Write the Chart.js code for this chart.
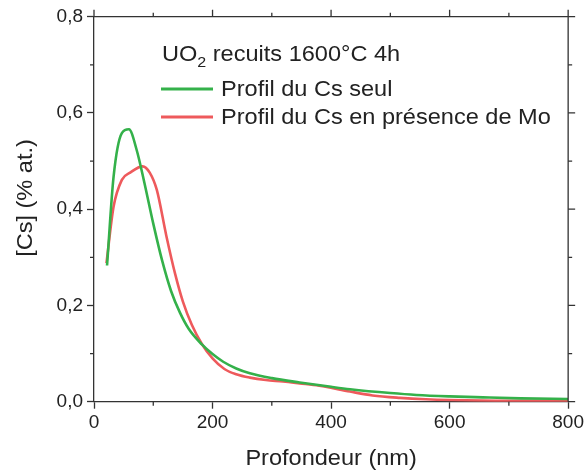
<!DOCTYPE html>
<html>
<head>
<meta charset="utf-8">
<script src="https://cdn.jsdelivr.net/npm/chart.js@4.4.1/dist/chart.umd.min.js"></script>
<style>
    body { margin: 0; background: #fff; }
    #wrap { width: 587px; height: 472px; position: relative; }
</style>
</head>
<body>
<div id="wrap"><canvas id="profileChart"></canvas></div>
<script>
// Profil du Cs seul
const depthCsAlone = [22, 33, 47, 59, 72, 85, 100, 115, 130, 145, 160, 182, 200, 218, 240, 263, 300, 347, 400, 432, 500, 544, 600, 656, 720, 800];
const concCsAlone = [0.283, 0.467, 0.558, 0.566, 0.523, 0.455, 0.370, 0.293, 0.230, 0.185, 0.151, 0.119, 0.099, 0.083, 0.069, 0.059, 0.049, 0.040, 0.031, 0.026, 0.018, 0.014, 0.011, 0.009, 0.007, 0.0056];

// Profil du Cs en présence de Mo
const depthCsMo = [21, 33, 47, 61, 82, 94, 106, 122, 137, 150, 165, 182, 200, 220, 240, 263, 290, 319, 347, 380, 432, 470, 516, 560, 600, 700, 800];
const concCsMo = [0.288, 0.405, 0.461, 0.476, 0.489, 0.476, 0.440, 0.345, 0.265, 0.208, 0.160, 0.120, 0.090, 0.068, 0.057, 0.050, 0.045, 0.042, 0.038, 0.033, 0.021, 0.013, 0.008, 0.005, 0.0035, 0.002, 0.002];

const seriesLabels = ['Profil du Cs seul', 'Profil du Cs en présence de Mo'];
const seriesColors = ['#34b14a', '#ee5a5c'];

const xTicks = [0, 200, 400, 600, 800];
const xMinorTicks = [100, 300, 500, 700];
const yTicks = [0, 0.2, 0.4, 0.6, 0.8];
const yMinorTicks = [0.1, 0.3, 0.5, 0.7];

const legendTitle = ['UO', '2', ' recuits 1600°C 4h'];
const xTitle = 'Profondeur (nm)';
const yTitle = '[Cs] (% at.)';

const FONT = "'Liberation Sans', Arial, sans-serif";
const AXIS = '#333';
const STRETCH = 1.07;

function toPoints(xs, ys) {
    return xs.map((x, i) => ({ x: x, y: ys[i] }));
}

// texte légèrement élargi, comme dans la figure d'origine
function wideText(ctx, text, x, y) {
    ctx.save();
    ctx.translate(x, y);
    ctx.scale(STRETCH, 1);
    ctx.fillText(text, 0, 0);
    ctx.restore();
    return ctx.measureText(text).width * STRETCH;
}

const framePlugin = {
    id: 'frame',
    afterDraw(chart) {
        const ctx = chart.ctx;
        const area = chart.chartArea;
        const xs = chart.scales.x;
        const ys = chart.scales.y;

        ctx.save();
        ctx.strokeStyle = AXIS;
        ctx.lineWidth = 1.3;

        // cadre haut et droit
        ctx.beginPath();
        ctx.moveTo(area.left, area.top);
        ctx.lineTo(area.right, area.top);
        ctx.moveTo(area.right, area.top);
        ctx.lineTo(area.right, area.bottom);
        ctx.stroke();

        ctx.beginPath();
        xTicks.forEach(v => {
            const px = xs.getPixelForValue(v);
            ctx.moveTo(px, area.top);
            ctx.lineTo(px, area.top - 7);
        });
        xMinorTicks.forEach(v => {
            const px = xs.getPixelForValue(v);
            ctx.moveTo(px, area.top);
            ctx.lineTo(px, area.top - 4);
            ctx.moveTo(px, area.bottom);
            ctx.lineTo(px, area.bottom + 4);
        });
        yTicks.forEach(v => {
            const py = ys.getPixelForValue(v);
            ctx.moveTo(area.right, py);
            ctx.lineTo(area.right + 7, py);
        });
        yMinorTicks.forEach(v => {
            const py = ys.getPixelForValue(v);
            ctx.moveTo(area.right, py);
            ctx.lineTo(area.right + 4, py);
            ctx.moveTo(area.left, py);
            ctx.lineTo(area.left - 4, py);
        });
        ctx.stroke();

        // titres des axes
        ctx.fillStyle = '#222';
        ctx.font = '22px ' + FONT;
        ctx.textAlign = 'center';
        ctx.textBaseline = 'alphabetic';
        wideText(ctx, xTitle, (area.left + area.right) / 2, 465);

        ctx.save();
        ctx.translate(32, 198);
        ctx.rotate(-Math.PI / 2);
        wideText(ctx, yTitle, 0, 0);
        ctx.restore();

        // légende
        ctx.textAlign = 'left';
        let x = 162;
        ctx.font = '22px ' + FONT;
        x += wideText(ctx, legendTitle[0], x, 61);
        ctx.font = '15px ' + FONT;
        x += wideText(ctx, legendTitle[1], x, 67);
        ctx.font = '22px ' + FONT;
        wideText(ctx, legendTitle[2], x, 61);

        const rows = [89, 117];
        chart.data.datasets.forEach((ds, i) => {
            ctx.strokeStyle = ds.borderColor;
            ctx.lineWidth = 3;
            ctx.beginPath();
            ctx.moveTo(161, rows[i]);
            ctx.lineTo(213, rows[i]);
            ctx.stroke();
            wideText(ctx, ds.label, 221, rows[i] + 7);
        });
        ctx.restore();
    }
};

const ctx = document.getElementById('profileChart').getContext('2d');
new Chart(ctx, {
    type: 'line',
    data: {
        datasets: [
            {
                label: seriesLabels[0],
                data: toPoints(depthCsAlone, concCsAlone),
                borderColor: seriesColors[0],
                borderWidth: 2.6,
                pointRadius: 0,
                cubicInterpolationMode: 'monotone'
            },
            {
                label: seriesLabels[1],
                data: toPoints(depthCsMo, concCsMo),
                borderColor: seriesColors[1],
                borderWidth: 2.6,
                pointRadius: 0,
                cubicInterpolationMode: 'monotone'
            }
        ]
    },
    options: {
        responsive: true,
        maintainAspectRatio: false,
        animation: false,
        layout: { padding: { left: 0, top: 16.7, right: 18.5, bottom: 0 } },
        plugins: {
            legend: { display: false },
            tooltip: { enabled: false }
        },
        scales: {
            x: {
                type: 'linear',
                min: 0,
                max: 800,
                afterFit: scale => { scale.height = 70.3; },
                afterBuildTicks: scale => { scale.ticks = xTicks.map(v => ({ value: v })); },
                ticks: {
                    font: { family: FONT, size: 19 },
                    color: '#222',
                    padding: 3,
                    maxRotation: 0
                },
                grid: { drawOnChartArea: false, tickLength: 7, color: AXIS, tickWidth: 1.3 },
                border: { color: AXIS, width: 1.3 }
            },
            y: {
                min: 0,
                max: 0.8,
                afterFit: scale => { scale.width = 94; },
                afterBuildTicks: scale => { scale.ticks = yTicks.map(v => ({ value: v })); },
                ticks: {
                    font: { family: FONT, size: 19 },
                    color: '#222',
                    padding: 4,
                    callback: v => v.toFixed(1).replace('.', ',')
                },
                grid: { drawOnChartArea: false, tickLength: 7, color: AXIS, tickWidth: 1.3 },
                border: { color: AXIS, width: 1.3 }
            }
        }
    },
    plugins: [framePlugin]
});
</script>
</body>
</html>
